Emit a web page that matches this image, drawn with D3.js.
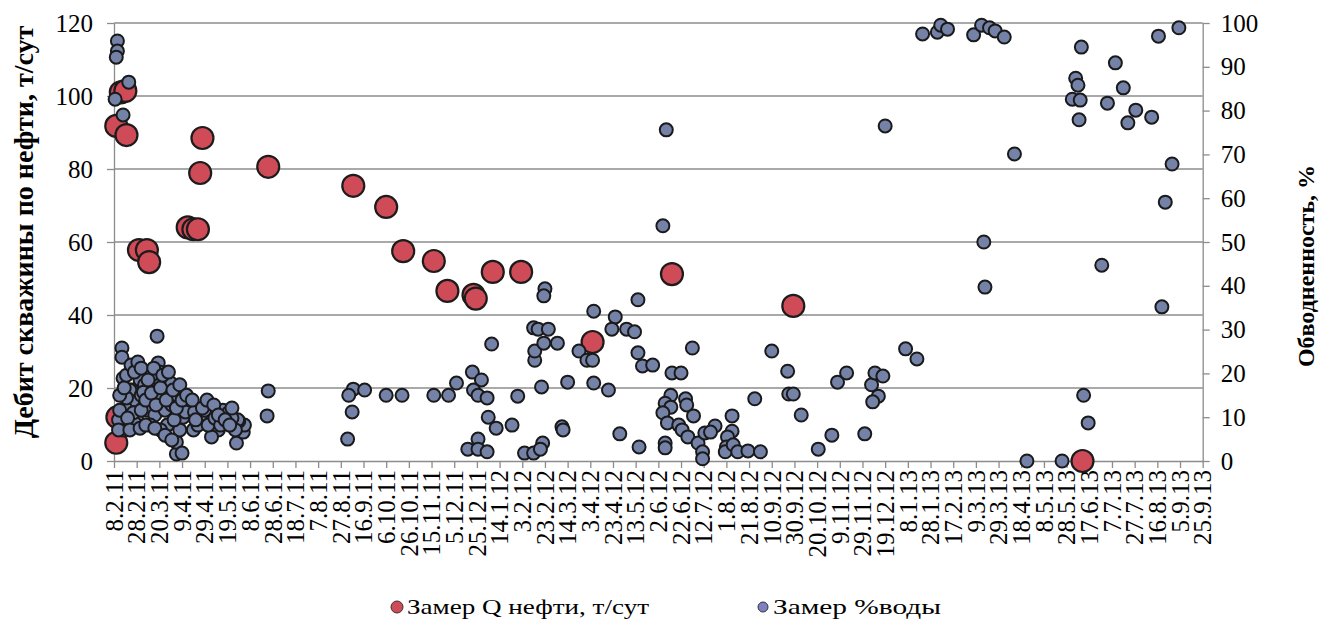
<!DOCTYPE html>
<html>
<head>
<meta charset="utf-8">
<script src="https://cdn.jsdelivr.net/npm/d3@7/dist/d3.min.js"></script>
<style>
  html, body { margin: 0; padding: 0; background: #fff; }
  svg { display: block; }
  svg text { font-family: "Liberation Serif", "Times New Roman", serif; fill: #000; }
</style>
</head>
<body>
<svg id="chart" width="1333" height="628"></svg>
<script>
// Date ticks every 20 days along the bottom axis
const tickLabels = ["8.2.11","28.2.11","20.3.11","9.4.11","29.4.11","19.5.11","8.6.11","28.6.11","18.7.11","7.8.11",
  "27.8.11","16.9.11","6.10.11","26.10.11","15.11.11","5.12.11","25.12.11","14.1.12","3.2.12","23.2.12",
  "14.3.12","3.4.12","23.4.12","13.5.12","2.6.12","22.6.12","12.7.12","1.8.12","21.8.12","10.9.12",
  "30.9.12","20.10.12","9.11.12","29.11.12","19.12.12","8.1.13","28.1.13","17.2.13","9.3.13","29.3.13",
  "18.4.13","8.5.13","28.5.13","17.6.13","7.7.13","27.7.13","16.8.13","5.9.13","25.9.13"];

const oilTicks = [0, 20, 40, 60, 80, 100, 120];
const waterTicks = [0, 10, 20, 30, 40, 50, 60, 70, 80, 90, 100];

// Замер Q нефти, т/сут  [date, t/day]
const oil = [
  ["10.2.11",5],["10.2.11",91.8],["11.2.11",12],["14.2.11",101],["18.2.11",101.4],["19.2.11",89.3],
  ["2.3.11",57.8],["9.3.11",57.8],["11.3.11",54.5],["14.4.11",64],["19.4.11",63.5],["23.4.11",63.5],
  ["25.4.11",78.9],["27.4.11",88.5],["24.6.11",80.6],["7.9.11",75.4],["6.10.11",69.6],["21.10.11",57.5],
  ["17.11.11",54.8],["29.11.11",46.6],["22.12.11",45.5],["24.12.11",44.5],["8.1.12",51.8],["2.2.12",51.8],
  ["5.4.12",32.6],["14.6.12",51.2],["29.9.12",42.5],["11.6.13",0]
];

// Замер %воды  [date, %]
const water = [
  ["11.2.11",95.9],["11.2.11",93.6],["10.2.11",92.2],["9.2.11",82.6],["21.2.11",86.5],["16.2.11",79],
  ["15.2.11",25.8],["15.2.11",23.7],["16.2.11",18.9],["18.3.11",28.5],["19.3.11",22.4],
  ["4.4.11",1.6],["4.4.11",4.3],["27.5.11",4.1],["2.6.11",6.6],["3.6.11",8.2],["29.5.11",9.1],
  ["15.5.11",11.6],["20.5.11",11],["11.5.11",7.1],["4.5.11",10],["25.4.11",10],["16.4.11",12.3],["16.4.11",13.5],
  ["7.4.11",7.1],["30.3.11",17.8],["30.3.11",15],["20.3.11",18.5],["20.3.11",20.3],["12.3.11",13.2],["5.3.11",20.8],
  ["28.2.11",9.4],["24.2.11",16.2],["25.2.11",13.9],["16.2.11",7.1],["18.2.11",12.1],["22.2.11",16.2],["26.2.11",8.7],["25.2.11",11],
  ["24.6.11",16],["23.6.11",10.3],["14.4.11",13.2],["10.4.11",10],["19.4.11",7.1],["5.5.11",5.5],["28.5.11",9.4],["9.4.11",1.8],
  ["12.2.11",9.4],["13.2.11",11.6],["12.2.11",7.1],["19.2.11",14.4],["20.2.11",9.8],["3.3.11",18.5],["4.3.11",15],["7.3.11",17.4],
  ["9.3.11",11.6],["13.3.11",19.6],["14.3.11",15.7],["16.3.11",10.5],["22.3.11",15],["25.3.11",11.6],["27.3.11",8.2],["31.3.11",12.8],
  ["2.4.11",9.4],["5.4.11",15],["12.4.11",11.2],["20.4.11",11.2],["23.4.11",8.2],["29.4.11",11.6],["2.5.11",8.2],["8.5.11",9.8],
  ["13.5.11",8.2],["23.5.11",9.8],["23.5.11",12.1],["26.5.11",7.1],["21.3.11",7.1],["12.3.11",8.2],["4.3.11",11.6],["22.2.11",7.1],
  ["13.2.11",15],["17.2.11",16.7],["19.2.11",19.6],["23.2.11",21.9],["26.2.11",20.3],["1.3.11",22.6],["4.3.11",21.2],["6.3.11",15.7],
  ["8.3.11",13.9],["10.3.11",18.5],["13.3.11",15.5],["15.3.11",21.2],["17.3.11",12.8],["21.3.11",16.7],["23.3.11",19.6],["26.3.11",13.9],
  ["28.3.11",20.3],["1.4.11",16.2],["4.4.11",12.1],["7.4.11",17.4],["9.4.11",13.9],["13.4.11",15],["18.4.11",13.9],["21.4.11",9.4],
  ["27.4.11",12.1],["1.5.11",13.9],["7.5.11",12.8],["11.5.11",10.5],["17.5.11",9.4],["21.5.11",8.2],["3.3.11",7.5],["8.3.11",8.2],
  ["16.3.11",7.5],["25.3.11",5.9],["31.3.11",4.8],
  ["7.9.11",16.4],["3.9.11",15],["17.9.11",16.2],["6.9.11",11.2],["2.9.11",5],["6.10.11",15],["20.10.11",15],["17.11.11",15],["30.11.11",15],
  ["7.12.11",17.8],["21.12.11",20.3],["29.12.11",18.5],["22.12.11",16.2],["26.12.11",15],["3.1.12",14.4],["4.1.12",10],["11.1.12",7.5],["7.1.12",26.7],
  ["26.12.11",5],["17.12.11",2.7],["26.12.11",2.7],["3.1.12",2.1],["25.1.12",8.2],["30.1.12",14.8],
  ["5.2.12",1.8],["13.2.12",1.8],["21.2.12",4.1],["19.2.12",2.7],["20.2.12",16.9],["14.2.12",23],["14.2.12",25.1],["22.2.12",26.9],
  ["13.2.12",30.4],["17.2.12",30.1],["26.2.12",30.1],["5.3.12",26.9],["23.2.12",39.3],["22.2.12",37.7],["14.3.12",18],["9.3.12",7.8],["10.3.12",7.1],
  ["24.3.12",25.1],["31.3.12",23],["5.4.12",23],["6.4.12",17.8],["19.4.12",16.2],["6.4.12",34.2],["25.4.12",32.9],["22.4.12",30.1],["5.5.12",30.1],
  ["12.5.12",29.5],["15.5.12",36.8],["15.5.12",24.7],["19.5.12",21.7],["28.5.12",21.9],["29.4.12",6.2],["16.5.12",3.2],
  ["8.6.12",4.1],["8.6.12",3],["14.6.12",20.1],["22.6.12",20.1],["13.6.12",15],["8.6.12",13.2],["13.6.12",12.3],["6.6.12",11],["10.6.12",8.7],
  ["20.6.12",8.2],["23.6.12",7.1],["26.6.12",14.2],["27.6.12",12.8],["3.7.12",10.3],["2.7.12",25.8],["28.6.12",5.5],["7.7.12",4.1],["11.7.12",2.1],["11.7.12",0.5],
  ["13.7.12",6.4],["22.7.12",8],["18.7.12",6.6],
  ["6.8.12",10.3],["6.8.12",6.8],["2.8.12",5.5],["1.8.12",3.2],["31.7.12",2.1],["7.8.12",3.7],["11.8.12",2.1],["20.8.12",2.3],["31.8.12",2.1],
  ["26.8.12",14.2],["10.9.12",25.1],["24.9.12",20.5],["25.9.12",15.3],["29.9.12",15.3],["6.10.12",10.5],["21.10.12",2.7],["2.11.12",5.9],["7.11.12",18],["15.11.12",20.1],
  ["1.12.12",6.2],["7.12.12",17.4],["10.12.12",20.1],["17.12.12",19.4],["13.12.12",14.8],["8.12.12",13.5],["19.12.12",76.5],["6.1.13",25.6],["16.1.13",23.3],
  ["9.6.12",75.6],["6.6.12",53.7],
  ["21.1.13",97.5],["3.2.13",97.9],["6.2.13",99.5],["12.2.13",98.6],["7.3.13",97.3],["14.3.13",99.5],["21.3.13",98.9],["26.3.13",98.2],["3.4.13",96.8],
  ["12.4.13",70.1],["16.3.13",50],["17.3.13",39.7],["23.4.13",0],["24.5.13",0],["10.6.13",94.5],["5.6.13",87.4],["7.6.13",85.8],["2.6.13",82.6],["9.6.13",82.4],["8.6.13",77.9],
  ["12.6.13",15],["16.6.13",8.7],["10.7.13",90.9],["3.7.13",81.7],["17.7.13",85.2],["28.6.13",44.7],["28.7.13",80.1],["21.7.13",77.2],["11.8.13",78.5],["17.8.13",97],
  ["4.9.13",98.9],["29.8.13",67.8],["23.8.13",59.1],["20.8.13",35.2]
];

const seriesNames = ["Замер Q нефти, т/сут", "Замер %воды"];
const leftTitle = "Дебит скважины по нефти, т/сут";
const rightTitle = "Обводненность, %";

const parse = d3.timeParse("%d.%m.%y");
const fmt = d3.timeFormat("%-d.%-m.%y");
const serif = "'Liberation Serif', 'Times New Roman', serif";

const svg = d3.select("#chart");
const frame = { left: 114, right: 1202.7, top: 23, bottom: 461 };

const x = d3.scaleTime()
  .domain([parse(tickLabels[0]), parse(tickLabels[tickLabels.length - 1])])
  .range([frame.left, frame.right]);
const yOil = d3.scaleLinear().domain([0, 120]).range([frame.bottom, frame.top]);
const yWater = d3.scaleLinear().domain([0, 100]).range([frame.bottom, frame.top]);

const axisColor = "#8c8c8c";

// horizontal gridlines on the oil scale
svg.append("g")
  .selectAll("line")
  .data(oilTicks.filter(d => d > 0))
  .join("line")
  .attr("x1", frame.left).attr("x2", frame.right)
  .attr("y1", d => yOil(d)).attr("y2", d => yOil(d))
  .attr("stroke", axisColor).attr("stroke-width", 1.3);

function styleAxis(g, size) {
  g.attr("font-family", null);
  g.selectAll("path, line").attr("stroke", axisColor).attr("stroke-width", 1.3);
  g.selectAll("text").style("font-family", serif).style("font-size", size + "px").attr("fill", "#000");
}

// left axis
const gL = svg.append("g")
  .attr("transform", `translate(${frame.left},0)`)
  .call(d3.axisLeft(yOil).tickValues(oilTicks).tickSize(7).tickSizeOuter(0).tickPadding(14));
styleAxis(gL, 25);

// right axis
const gR = svg.append("g")
  .attr("transform", `translate(${frame.right},0)`)
  .call(d3.axisRight(yWater).tickValues(waterTicks).tickSize(7).tickSizeOuter(0).tickPadding(11));
styleAxis(gR, 25);

// bottom date axis
const gB = svg.append("g")
  .attr("transform", `translate(0,${frame.bottom})`)
  .call(d3.axisBottom(x).tickValues(tickLabels.map(parse)).tickFormat(fmt).tickSize(7).tickSizeOuter(0));
styleAxis(gB, 25);
gB.selectAll("text")
  .attr("text-anchor", "end")
  .attr("x", -9).attr("y", 0).attr("dy", "0.33em")
  .attr("transform", "rotate(-90)");

// oil measurements (large red markers)
svg.append("g")
  .selectAll("circle")
  .data(oil)
  .join("circle")
  .attr("cx", d => x(parse(d[0])))
  .attr("cy", d => yOil(d[1]))
  .attr("r", 11)
  .attr("fill", "#cf4b57")
  .attr("stroke", "#1c1c1c")
  .attr("stroke-width", 2.2);

// water-cut measurements (small blue-grey markers)
svg.append("g")
  .selectAll("circle")
  .data(water)
  .join("circle")
  .attr("cx", d => x(parse(d[0])))
  .attr("cy", d => yWater(d[1]))
  .attr("r", 6.5)
  .attr("fill", "#7482a8")
  .attr("stroke", "#1a1a1a")
  .attr("stroke-width", 2);

// axis titles
svg.append("text")
  .attr("transform", "translate(33,232) rotate(-90)")
  .attr("text-anchor", "middle")
  .style("font-size", "28px").attr("font-weight", "bold")
  .text(leftTitle);

svg.append("text")
  .attr("transform", "translate(1314,266) rotate(-90)")
  .attr("text-anchor", "middle")
  .style("font-size", "24px").attr("font-weight", "bold")
  .text(rightTitle);

// legend
const legend = svg.append("g");
const legendItems = [
  { name: seriesNames[0], fill: "#cf4b57", cx: 397, r: 6, w: 242 },
  { name: seriesNames[1], fill: "#7f7fc4", cx: 763, r: 5, w: 168 }
];
legendItems.forEach(it => {
  legend.append("circle").attr("cx", it.cx).attr("cy", 607).attr("r", it.r)
    .attr("fill", it.fill).attr("stroke", "#333").attr("stroke-width", 1);
  legend.append("text").attr("x", it.cx + 10).attr("y", 614)
    .style("font-size", "22px")
    .attr("textLength", it.w).attr("lengthAdjust", "spacingAndGlyphs")
    .text(it.name);
});
</script>
</body>
</html>
